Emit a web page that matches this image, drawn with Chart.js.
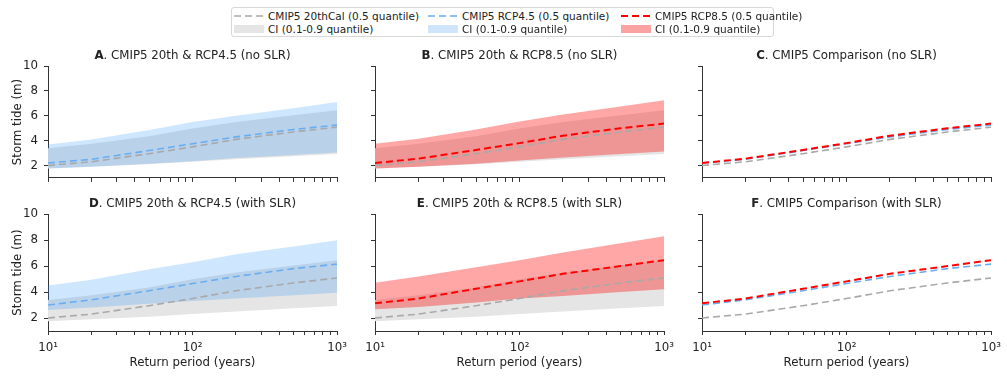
<!DOCTYPE html>
<html>
<head>
<meta charset="utf-8">
<script src="https://cdn.jsdelivr.net/npm/chart.js@4.4.1/dist/chart.umd.min.js"></script>
<style>
  body { margin: 0; background: #fff; font-family: "DejaVu Sans", sans-serif; color: #222; }
  #wrap { position: relative; width: 1007px; height: 376px; overflow: hidden; }
  canvas { position: absolute; }
  .ptitle { position: absolute; font-size: 11.8px; text-align: center; white-space: nowrap; line-height: 14px; z-index: 2; }
  #legend { position: absolute; left: 231px; top: 7px; width: 541px; height: 28px; border: 1px solid #d8d8d8; border-radius: 3px; font-size: 10.5px; z-index: 2; }
  .li { position: absolute; white-space: nowrap; line-height: 12px; }
  .sw { position: absolute; }
</style>
</head>
<body>
<div id="wrap">
  <div id="legend"></div>
</div>
<script>
const RETURN_PERIODS = [10, 20, 50, 100, 200, 500, 1000];
const X_LABELS = { 10: '10\u00b9', 100: '10\u00b2', 1000: '10\u00b3' };
const X_TICKS = [10, 20, 30, 40, 50, 60, 70, 80, 90, 100, 200, 300, 400, 500, 600, 700, 800, 900, 1000];
const Y_TICKS = [2, 4, 6, 8, 10];

// CMIP5 20thCal
const HIST_MED = [2.0, 2.3, 2.95, 3.5, 4.1, 4.7, 5.08];
const HIST_LO = [1.75, 1.9, 2.1, 2.3, 2.5, 2.75, 2.92];
const HIST_HI = [3.38, 3.75, 4.35, 4.98, 5.5, 6.05, 6.45];

// RCP4.5, no SLR
const R45_MED = [2.2, 2.5, 3.2, 3.75, 4.3, 4.9, 5.25];
const R45_LO = [1.75, 1.9, 2.15, 2.35, 2.6, 2.85, 3.05];
const R45_HI = [3.68, 4.1, 4.85, 5.5, 6.0, 6.6, 7.1];

// RCP8.5, no SLR
const R85_MED = [2.2, 2.55, 3.25, 3.8, 4.4, 5.0, 5.37];
const R85_LO = [1.75, 1.9, 2.15, 2.4, 2.65, 2.92, 3.12];
const R85_HI = [3.75, 4.15, 4.9, 5.55, 6.1, 6.75, 7.25];

// RCP4.5, with SLR
const R45S_MED = [3.0, 3.4, 4.1, 4.65, 5.2, 5.8, 6.15];
const R45S_LO = [2.62, 2.8, 3.1, 3.3, 3.5, 3.75, 3.94];
const R45S_HI = [4.5, 4.95, 5.75, 6.3, 6.9, 7.5, 7.98];

// RCP8.5, with SLR
const R85S_MED = [3.13, 3.5, 4.25, 4.82, 5.4, 6.0, 6.45];
const R85S_LO = [2.68, 2.85, 3.2, 3.5, 3.7, 4.0, 4.21];
const R85S_HI = [4.72, 5.2, 5.9, 6.45, 7.05, 7.75, 8.29];

const GREY_LINE = '#a9a9a9';
const BLUE_LINE = '#6aaef0';
const RED_LINE = '#ff0000';
const GREY_FILL = 'rgb(229,229,229)';
const BLUE_FILL = 'rgba(30,144,255,0.22)';
const RED_FILL = 'rgba(255,0,0,0.35)';
const FONT = { family: 'DejaVu Sans', size: 11.8 };

function pts(values) {
  return RETURN_PERIODS.map((t, i) => ({ x: t, y: values[i] }));
}

function band(lo, hi, color, order) {
  return [
    { data: pts(lo), borderWidth: 0, pointRadius: 0, fill: false, order: order },
    { data: pts(hi), borderWidth: 0, pointRadius: 0, fill: '-1', backgroundColor: color, order: order }
  ];
}

function median(values, color, width, order) {
  return { data: pts(values), borderColor: color, borderWidth: width, borderDash: [7, 4],
           pointRadius: 0, fill: false, order: order };
}

const wrap = document.getElementById('wrap');
const LEFTS = [48, 375, 702];
const PW = 289;
const ROWS = [{ top: 63.3, h: 120.4, xH: 8 }, { top: 210.7, h: 120.3, xH: 42 }];
const PAD_TOP = 10, PAD_RIGHT = 16;

function panel(col, row, title, letter, datasets) {
  const yW = col === 0 ? 48 : 24;
  const r = ROWS[row];
  const c = document.createElement('canvas');
  const w = PW + yW + PAD_RIGHT;
  const h = r.h + PAD_TOP + r.xH;
  c.width = Math.round(w);
  c.height = Math.round(h);
  c.style.left = (LEFTS[col] - yW) + 'px';
  c.style.top = (r.top - PAD_TOP) + 'px';
  wrap.appendChild(c);

  const t = document.createElement('div');
  t.className = 'ptitle';
  t.innerHTML = '<b>' + letter + '</b>. ' + title;
  t.style.left = LEFTS[col] + 'px';
  t.style.width = PW + 'px';
  t.style.top = (r.top - 15) + 'px';
  wrap.appendChild(t);

  new Chart(c, {
    type: 'line',
    data: { datasets: datasets },
    options: {
      responsive: false,
      animation: false,
      layout: { padding: { top: PAD_TOP, right: PAD_RIGHT, left: 0, bottom: 0 } },
      plugins: { legend: { display: false }, tooltip: { enabled: false } },
      scales: {
        x: {
          type: 'logarithmic', min: 10, max: 1000,
          afterBuildTicks: s => { s.ticks = X_TICKS.map(v => ({ value: v })); },
          afterFit: s => { s.height = r.xH; },
          ticks: {
            autoSkip: false, maxRotation: 0, padding: 6, color: '#222', font: FONT,
            callback: v => (row === 1 && X_LABELS[v]) ? X_LABELS[v] : ''
          },
          grid: { drawOnChartArea: false, drawTicks: true, tickLength: 4, tickColor: '#333' },
          border: { display: true, color: '#333', width: 1 },
          title: { display: row === 1, text: 'Return period (years)', color: '#222', font: FONT,
                   padding: { top: 0, bottom: 3 } }
        },
        y: {
          min: 1, max: 10,
          afterBuildTicks: s => { s.ticks = Y_TICKS.map(v => ({ value: v })); },
          afterFit: s => { s.width = yW; },
          ticks: { padding: 6, color: '#222', font: FONT,
                   callback: v => col === 0 ? String(v) : '' },
          grid: { drawOnChartArea: false, drawTicks: true, tickLength: 4, tickColor: '#333' },
          border: { display: true, color: '#333', width: 1 },
          title: { display: col === 0, text: 'Storm tide (m)', color: '#222', font: FONT,
                   padding: { top: 11, bottom: 0 } }
        }
      }
    }
  });
}

panel(0, 0, 'CMIP5 20th & RCP4.5 (no SLR)', 'A', [
  ...band(HIST_LO, HIST_HI, GREY_FILL, 6),
  ...band(R45_LO, R45_HI, BLUE_FILL, 5),
  median(HIST_MED, GREY_LINE, 1.6, 3),
  median(R45_MED, BLUE_LINE, 1.6, 2)
]);
panel(1, 0, 'CMIP5 20th & RCP8.5 (no SLR)', 'B', [
  ...band(HIST_LO, HIST_HI, GREY_FILL, 6),
  ...band(R85_LO, R85_HI, RED_FILL, 5),
  median(HIST_MED, GREY_LINE, 1.6, 3),
  median(R85_MED, RED_LINE, 2, 1)
]);
panel(2, 0, 'CMIP5 Comparison (no SLR)', 'C', [
  median(HIST_MED, GREY_LINE, 1.6, 3),
  median(R45_MED, BLUE_LINE, 1.6, 2),
  median(R85_MED, RED_LINE, 2, 1)
]);
panel(0, 1, 'CMIP5 20th & RCP4.5 (with SLR)', 'D', [
  ...band(HIST_LO, HIST_HI, GREY_FILL, 6),
  ...band(R45S_LO, R45S_HI, BLUE_FILL, 5),
  median(HIST_MED, GREY_LINE, 1.6, 3),
  median(R45S_MED, BLUE_LINE, 1.6, 2)
]);
panel(1, 1, 'CMIP5 20th & RCP8.5 (with SLR)', 'E', [
  ...band(HIST_LO, HIST_HI, GREY_FILL, 6),
  ...band(R85S_LO, R85S_HI, RED_FILL, 5),
  median(HIST_MED, GREY_LINE, 1.6, 3),
  median(R85S_MED, RED_LINE, 2, 1)
]);
panel(2, 1, 'CMIP5 Comparison (with SLR)', 'F', [
  median(HIST_MED, GREY_LINE, 1.6, 3),
  median(R45S_MED, BLUE_LINE, 1.6, 2),
  median(R85S_MED, RED_LINE, 2, 1)
]);

// legend
const LEGEND = [
  { x: 2, line: GREY_LINE, lw: 1.6, fill: '#e5e5e5', text: 'CMIP5 20thCal (0.5 quantile)' },
  { x: 196, line: BLUE_LINE, lw: 1.6, fill: '#cfe5fb', text: 'CMIP5 RCP4.5 (0.5 quantile)' },
  { x: 389, line: RED_LINE, lw: 2, fill: '#fba3a3', text: 'CMIP5 RCP8.5 (0.5 quantile)' }
];
const lg = document.getElementById('legend');
LEGEND.forEach(e => {
  lg.insertAdjacentHTML('beforeend',
    '<svg class="sw" style="left:' + e.x + 'px;top:6px" width="30" height="4">' +
    '<line x1="0" y1="2" x2="30" y2="2" stroke="' + e.line + '" stroke-width="' + e.lw + '" stroke-dasharray="7 4"/></svg>' +
    '<div class="li" style="left:' + (e.x + 34) + 'px;top:2px">' + e.text + '</div>' +
    '<div class="sw" style="left:' + e.x + 'px;top:17px;width:30px;height:8px;background:' + e.fill + '"></div>' +
    '<div class="li" style="left:' + (e.x + 34) + 'px;top:15px">CI (0.1-0.9 quantile)</div>');
});
</script>
</body>
</html>
